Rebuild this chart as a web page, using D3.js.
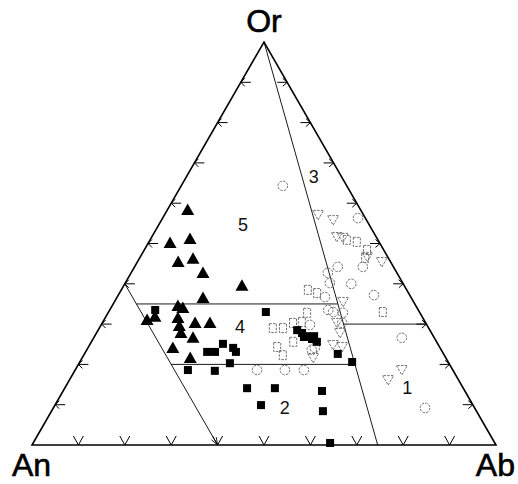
<!DOCTYPE html>
<html>
<head>
<meta charset="utf-8">
<script src="https://cdn.jsdelivr.net/npm/d3@7/dist/d3.min.js"></script>
<style>
html,body{margin:0;padding:0;background:#fff;}
svg{display:block;}
</style>
</head>
<body>
<svg id="chart" width="518" height="484"></svg>
<script>
// Ternary data: each point is [An, Ab, Or] in percent
const vertexLabels = ["An", "Ab", "Or"];
const tickValues = [10, 20, 30, 40, 50, 60, 70, 80, 90];

const filledTriangles = [
  [37.3, 4.4, 58.3], [45.2, 4.7, 50.1], [40.4, 8.5, 51.1], [45.8, 8.8, 45.4],
  [42.2, 11.6, 46.2], [41.8, 15.5, 42.7], [35.0, 25.5, 39.5], [44.9, 18.6, 36.5],
  [51.3, 14.2, 34.5], [50.5, 15.5, 34.0], [59.7, 9.3, 31.0], [57.6, 10.6, 31.8],
  [52.8, 15.7, 31.5], [53.5, 17.0, 29.5], [49.7, 20.0, 30.3], [46.5, 23.2, 30.3],
  [54.0, 18.2, 27.8], [52.0, 21.4, 26.6], [57.6, 18.3, 24.1], [55.1, 23.3, 21.6]
];

const filledSquares = [
  [56.7, 9.8, 33.5], [33.1, 33.9, 33.0], [46.3, 28.6, 25.1], [50.7, 26.2, 23.1],
  [49.0, 27.9, 23.1], [44.6, 31.3, 24.1], [44.5, 32.4, 23.1], [47.2, 32.5, 20.3],
  [57.1, 24.3, 18.6], [51.4, 30.2, 18.4], [46.6, 39.3, 14.1], [40.6, 45.3, 14.1],
  [30.8, 55.8, 13.4], [45.7, 44.4, 9.9], [33.1, 58.5, 8.4], [35.5, 64.0, 0.5],
  [28.6, 42.9, 28.5], [27.9, 44.3, 27.8], [27.2, 45.8, 27.0], [26.5, 47.2, 26.3],
  [25.8, 48.6, 25.6], [28.0, 45.2, 26.8], [25.7, 47.3, 27.0], [22.8, 54.6, 22.6],
  [20.7, 58.7, 20.6]
];

const openCircles = [
  [13.8, 21.9, 64.3], [1.6, 42.1, 56.3], [12.0, 43.8, 44.2], [6.6, 49.2, 44.2],
  [14.9, 42.4, 42.7], [15.7, 44.1, 40.2], [11.2, 48.8, 40.0], [7.7, 55.1, 37.2],
  [18.5, 44.8, 36.7], [19.4, 47.1, 33.5], [16.6, 50.6, 32.8], [25.2, 45.0, 29.8],
  [7.0, 66.4, 26.6], [27.9, 48.5, 23.6], [42.2, 39.2, 18.6], [36.2, 45.2, 18.6],
  [32.1, 49.3, 18.6], [10.7, 80.1, 9.2], [18.6, 48.4, 33.0], [18.0, 51.7, 30.3],
  [27.0, 48.9, 24.1]
];

const openInvTriangles = [
  [9.8, 33.1, 57.1], [7.2, 37.0, 55.8], [8.5, 39.9, 51.6], [7.3, 41.3, 51.4],
  [4.4, 48.9, 46.7], [1.9, 52.7, 45.4], [15.2, 49.3, 35.5], [19.1, 50.6, 30.3],
  [19.7, 52.5, 27.8], [22.7, 52.5, 24.8], [21.0, 54.7, 24.3], [28.6, 49.8, 21.6],
  [15.2, 68.7, 16.1], [11.0, 70.4, 18.6]
];

const openSquares = [
  [21.3, 40.2, 38.5], [19.7, 42.6, 37.7], [24.3, 42.9, 32.8], [33.6, 37.4, 29.0],
  [31.4, 39.6, 29.0], [28.6, 41.1, 30.3], [26.6, 42.9, 30.5], [35.0, 40.7, 24.3],
  [34.8, 42.9, 22.3], [30.9, 43.5, 25.6], [6.7, 42.4, 50.9], [4.8, 44.8, 50.4],
  [3.6, 48.0, 48.4], [7.9, 59.1, 33.0], [5.0, 48.6, 46.4]
];

// Field boundaries (ternary) and field labels
const orLineBase = [25.5, 74.5, 0];        // line from Or apex to An-Ab edge
const anConst = 60;                        // line of constant An
const orLevels = [35, 30, 20];
const fieldLabels = ["1", "2", "3", "4", "5"];
const fieldPositions = [
  [12.1, 73.8, 14.1], [40.9, 49.9, 9.2], [6.0, 27.5, 66.5], [40.5, 30.2, 29.3], [27.2, 18.2, 54.6]
];

// ---------- drawing ----------
const svg = d3.select("#chart");
const xs = d3.scaleLinear().domain([0, 100]).range([32, 496]);
const ys = d3.scaleLinear().domain([0, 100]).range([445, 42]);
function P(d) { return [xs(d[1] + d[2] / 2), ys(d[2])]; }
// point on Or-apex line at given Or
function onOrLine(or) {
  const f = orLineBase[1] / 100;
  return [(100 - or) * (1 - f), (100 - or) * f, or];
}

const frame = svg.append("g");
const A = P([100, 0, 0]), B = P([0, 100, 0]), C = P([0, 0, 100]);
frame.append("path")
  .attr("d", d3.line()([A, B, C, A]) + "Z")
  .attr("fill", "none").attr("stroke", "#000").attr("stroke-width", 1.6)
  .attr("stroke-linejoin", "miter");

// ticks
const tg = svg.append("g").attr("stroke", "#000").attr("stroke-width", 1).attr("fill", "none");
tickValues.forEach(v => {
  const l = P([100 - v, 0, v]);
  tg.append("path").attr("d", `M${l[0]},${l[1]}H${l[0] + 10}M${l[0] + 4},${l[1] - 4}L${l[0]},${l[1]}L${l[0] + 4},${l[1] + 4}`);
  const r = P([0, 100 - v, v]);
  tg.append("path").attr("d", `M${r[0]},${r[1]}H${r[0] - 10}M${r[0] - 4.5},${r[1] - 4}L${r[0]},${r[1]}L${r[0] - 4.5},${r[1] + 4}`);
  const b = P([100 - v, v, 0]);
  tg.append("path").attr("d", `M${b[0] - 5},${b[1] - 9}L${b[0]},${b[1]}L${b[0] + 5},${b[1] - 9}`);
});

// field boundaries
const lg = svg.append("g").attr("stroke", "#000").attr("stroke-width", 0.9).attr("fill", "none");
const line = d3.line();
lg.append("path").attr("d", line([C, P(orLineBase)]));
const l2a = P([anConst, 0, 100 - anConst]), l2b = P([anConst, 100 - anConst, 0]);
lg.append("path").attr("d", line([l2a, l2b]));
// arrowhead at end of An line
{
  const ang = Math.atan2(l2b[1] - l2a[1], l2b[0] - l2a[0]);
  const len = 8, sp = 0.35;
  const p1 = [l2b[0] - len * Math.cos(ang - sp), l2b[1] - len * Math.sin(ang - sp)];
  const p2 = [l2b[0] - len * Math.cos(ang + sp), l2b[1] - len * Math.sin(ang + sp)];
  lg.append("path").attr("d", line([p1, l2b, p2]));
}
lg.append("path").attr("d", line([P([anConst, 100 - anConst - orLevels[0], orLevels[0]]), P(onOrLine(orLevels[0]))]));
lg.append("path").attr("d", line([P(onOrLine(orLevels[1])), P([0, 100 - orLevels[1], orLevels[1]])]));
lg.append("path").attr("d", line([P([anConst, 100 - anConst - orLevels[2], orLevels[2]]), P(onOrLine(orLevels[2]))]));

// field labels
svg.append("g").selectAll("text").data(fieldLabels).join("text")
  .attr("x", (d, i) => P(fieldPositions[i])[0])
  .attr("y", (d, i) => P(fieldPositions[i])[1])
  .attr("text-anchor", "middle").attr("dominant-baseline", "central")
  .attr("font-family", "Liberation Sans, Arial, sans-serif").attr("font-size", 18)
  .attr("fill", "#111").text(d => d);

// vertex labels
const vl = svg.append("g").attr("font-family", "Liberation Sans, Arial, sans-serif")
  .attr("font-size", 32).attr("fill", "#000").attr("stroke", "#000").attr("stroke-width", 0.6);
vl.append("text").attr("x", C[0]).attr("y", 32).attr("text-anchor", "middle").text(vertexLabels[2]);
vl.append("text").attr("x", 12).attr("y", 476).attr("text-anchor", "start").text(vertexLabels[0]);
vl.append("text").attr("x", 515).attr("y", 476).attr("text-anchor", "end").text(vertexLabels[1]);

// symbols
const grey = "#707070";
const og = svg.append("g").attr("fill", "none").attr("stroke", grey).attr("stroke-width", 1)
  .attr("stroke-dasharray", "2.5,1.2");
og.selectAll("circle.oc").data(openCircles).join("circle").attr("class", "oc")
  .attr("cx", d => P(d)[0]).attr("cy", d => P(d)[1]).attr("r", 4.8);
og.selectAll("path.ot").data(openInvTriangles).join("path").attr("class", "ot")
  .attr("d", d => { const [x, y] = P(d); return `M${x - 5.5},${y - 4.5}L${x},${y + 5}L${x + 5.5},${y - 4.5}Z`; });
og.selectAll("rect.os").data(openSquares).join("rect").attr("class", "os")
  .attr("x", d => P(d)[0] - 3.5).attr("y", d => P(d)[1] - 4.5).attr("width", 7).attr("height", 9);

const fg = svg.append("g").attr("fill", "#000");
fg.selectAll("path.ft").data(filledTriangles).join("path").attr("class", "ft")
  .attr("d", d => { const [x, y] = P(d); return `M${x},${y - 6.5}L${x + 6.5},${y + 5}L${x - 6.5},${y + 5}Z`; });
fg.selectAll("rect.fs").data(filledSquares).join("rect").attr("class", "fs")
  .attr("x", d => P(d)[0] - 4).attr("y", d => P(d)[1] - 4).attr("width", 8).attr("height", 8);
</script>
</body>
</html>
